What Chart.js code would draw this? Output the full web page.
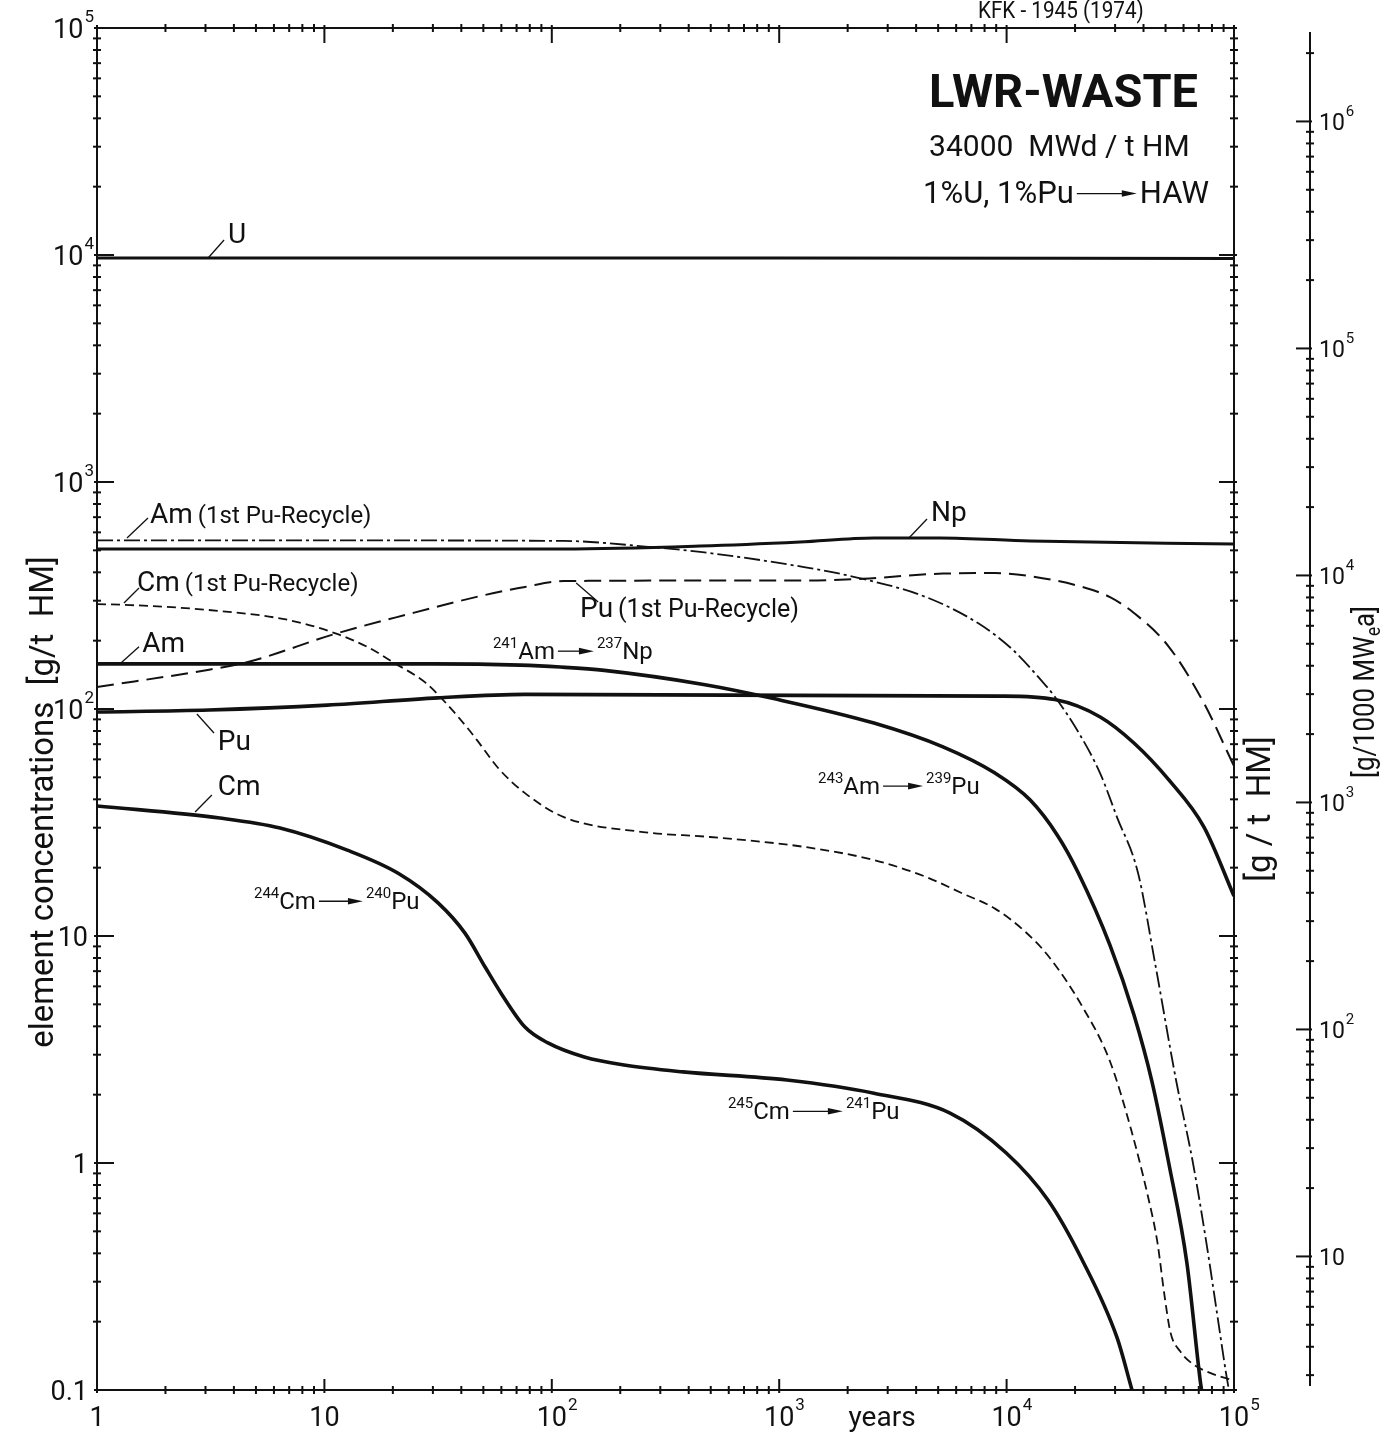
<!DOCTYPE html>
<html>
<head>
<meta charset="utf-8">
<title>LWR-WASTE element concentrations</title>
<style>
  html, body { margin: 0; padding: 0; background: #fff; }
  canvas { display: block; }
</style>
<script src="https://cdn.jsdelivr.net/npm/chart.js@4.4.1/dist/chart.umd.min.js"></script>
</head>
<body>
<canvas id="chart" width="1394" height="1432"></canvas>
<script>
// Decay time in years and element concentration in g per t HM, one pair of arrays per curve.
const uYears = [1, 1000, 100000];
const uValues = [9700, 9700, 9650];

const npYears = [1, 113, 449, 1234, 2610, 5100, 12700, 100000];
const npValues = [507, 507, 522, 544, 567, 567, 550, 533];

const amRecycleYears = [1, 10, 113, 273, 449, 1285, 2340, 4430, 7480, 10670, 14170, 16330, 20800, 25760, 30580, 37820, 44960, 55600, 66000, 76100, 84200, 92200, 95000];
const amRecycleValues = [553, 553, 550, 517, 492, 422, 374, 311, 239, 182, 134, 113, 78.3, 52.2, 33.4, 19.0, 7.6, 2.32, 1.0, 0.427, 0.218, 0.119, 0.1];

const cmRecycleYears = [1, 1.4, 3.1, 6.9, 11.1, 15.4, 20.2, 28, 34.3, 43.3, 46.9, 59, 76, 113, 252, 496, 1285, 2610, 4430, 6300, 8890, 12000, 15200, 21500, 28500, 35300, 41900, 46000, 49500, 52500, 58000, 66000, 80000, 100000];
const cmRecycleValues = [290, 287, 273, 247, 216, 188, 160, 130, 106, 80.8, 72.9, 54, 42.7, 33.4, 28.7, 27.3, 24.7, 21.6, 18.2, 15.5, 13.2, 10.5, 8.2, 4.9, 2.8, 1.40, 0.708, 0.45, 0.26, 0.18, 0.148, 0.13, 0.118, 0.110];

const puRecycleYears = [1, 3.11, 4.61, 11.1, 22.8, 50.9, 76.2, 113, 496, 1285, 2340, 5250, 8890, 12700, 21500, 28500, 36300, 51700, 73800, 100000];
const puRecycleValues = [125, 149, 161, 214, 260, 318, 345, 366, 368, 368, 375, 395, 397, 385, 345, 311, 265, 188, 106, 56];

const amYears = [1, 30, 72.6, 109, 170, 472, 912, 2610, 5250, 8890, 12700, 16800, 20600, 28500, 36300, 43550, 51740, 62070, 70950, 72000];
const amValues = [158, 158, 156, 153, 148, 128, 112, 86.7, 68.1, 52.2, 39.7, 27.6, 19.1, 9.1, 4.5, 2.29, 0.99, 0.363, 0.111, 0.1];

const puYears = [1, 3.11, 10.3, 31.6, 76.2, 9350, 16300, 25800, 36300, 51700, 73800, 100000];
const puValues = [97, 99, 104, 112, 116, 114, 110, 92.2, 70.8, 48.7, 30.2, 15];

const cmYears = [1, 3.47, 6.38, 12.6, 21.1, 31.6, 41.5, 50.9, 59.8, 76.2, 96.2, 139, 208, 377, 1082, 2610, 5640, 9940, 15200, 21500, 30600, 35600];
const cmValues = [37.4, 33.1, 29.9, 23.9, 18.9, 14.0, 10.3, 7.3, 5.6, 3.97, 3.38, 2.93, 2.70, 2.52, 2.32, 2.03, 1.66, 1.11, 0.687, 0.374, 0.17, 0.1];

// Tick labels: base text plus optional exponent.
const xTickValues = [1, 10, 100, 1000, 10000, 100000];
const xTickBase = ['1', '10', '10', '10', '10', '10'];
const xTickExp = ['', '', '2', '3', '4', '5'];

const yTickValues = [0.1, 1, 10, 100, 1000, 10000, 100000];
const yTickBase = ['0.1', '1', '10', '10', '10', '10', '10'];
const yTickExp = ['', '', '', '2', '3', '4', '5'];

// Second scale: g per 1000 MWe·a
const rTickValues = [10, 100, 1000, 10000, 100000, 1000000];
const rTickBase = ['10', '10', '10', '10', '10', '10'];
const rTickExp = ['', '2', '3', '4', '5', '6'];

const FONT = 'Roboto, "DejaVu Sans", sans-serif';
const INK = '#111';

function points(xs, ys) { return xs.map((x, i) => ({ x, y: ys[i] })); }

function curve(label, xs, ys, width, dash) {
  return {
    label,
    data: points(xs, ys),
    borderColor: INK,
    borderWidth: width,
    borderDash: dash,
    borderJoinStyle: 'round',
    pointRadius: 0,
    fill: false,
    cubicInterpolationMode: 'monotone'
  };
}

const datasets = [
  curve('U', uYears, uValues, 3, []),
  curve('Np', npYears, npValues, 3, []),
  curve('Am (1st Pu-Recycle)', amRecycleYears, amRecycleValues, 1.8, [16, 4, 3, 4]),
  curve('Cm (1st Pu-Recycle)', cmRecycleYears, cmRecycleValues, 1.8, [9, 5]),
  curve('Pu (1st Pu-Recycle)', puRecycleYears, puRecycleValues, 2, [17, 8]),
  curve('Am', amYears, amValues, 3.6, []),
  curve('Pu', puYears, puValues, 3.6, []),
  curve('Cm', cmYears, cmValues, 3.6, [])
];

// Curve labels, placed in data coordinates (years, g/t HM) at the left edge / vertical middle of the text.
const notes = [
  { t: 3.77, v: 12500, size: 28, parts: [{ text: 'U' }] },
  { t: 1.71, v: 730, size: 28, parts: [{ text: 'Am' }, { gap: 5 }, { text: '(1st Pu-Recycle)', size: 24 }] },
  { t: 1.50, v: 366, size: 28, parts: [{ text: 'Cm' }, { gap: 5 }, { text: '(1st Pu-Recycle)', size: 24 }] },
  { t: 133, v: 281, size: 28, parts: [{ text: 'Pu' }, { gap: 5 }, { text: '(1st Pu-Recycle)', size: 25 }] },
  { t: 4650, v: 745, size: 28, parts: [{ text: 'Np' }] },
  { t: 1.58, v: 197, size: 28, parts: [{ text: 'Am' }] },
  { t: 3.40, v: 73, size: 28, parts: [{ text: 'Pu' }] },
  { t: 3.40, v: 46.3, size: 28, parts: [{ text: 'Cm' }] },
  { t: 55.1, v: 182, size: 24, parts: [{ text: '241', size: 15, sup: true }, { text: 'Am' }, { arrow: 42 }, { text: '237', size: 15, sup: true }, { text: 'Np' }] },
  { t: 1482, v: 46.3, size: 24, parts: [{ text: '243', size: 15, sup: true }, { text: 'Am' }, { arrow: 46 }, { text: '239', size: 15, sup: true }, { text: 'Pu' }] },
  { t: 4.90, v: 14.4, size: 24, parts: [{ text: '244', size: 15, sup: true }, { text: 'Cm' }, { arrow: 50 }, { text: '240', size: 15, sup: true }, { text: 'Pu' }] },
  { t: 595, v: 1.71, size: 24, parts: [{ text: '245', size: 15, sup: true }, { text: 'Cm' }, { arrow: 56 }, { text: '241', size: 15, sup: true }, { text: 'Pu' }] },
  { t: 4560, v: 53300, size: 47, parts: [{ text: 'LWR-WASTE', bold: true }] },
  { t: 4560, v: 30500, size: 30, parts: [{ text: '34000  MWd / t HM' }] },
  { t: 4290, v: 18950, size: 31, parts: [{ text: '1%U, 1%Pu' }, { arrow: 66 }, { text: 'HAW' }] }
];

// Short leader strokes from a curve to its label, in data coordinates.
const leaders = [
  [[3.08, 9700], [3.62, 11640]],
  [[1.355, 567], [1.676, 694]],
  [[1.314, 293], [1.53, 341]],
  [[128, 359], [160, 296]],
  [[3720, 567], [4467, 687]],
  [[1.26, 158], [1.53, 188]],
  [[2.75, 95], [3.27, 78.4]],
  [[2.70, 35.2], [3.20, 41.8]]
];

function logSteps(min, max) {
  const out = [];
  for (let e = Math.floor(Math.log10(min)); e <= Math.ceil(Math.log10(max)); e++) {
    for (let m = 1; m <= 9; m++) {
      const v = m * Math.pow(10, e);
      if (v >= min * 0.9999 && v <= max * 1.0001) out.push({ v, major: m === 1 });
    }
  }
  return out;
}

function vTicks(c, scale, x, dir, majorLen) {
  for (const s of logSteps(scale.min, scale.max)) {
    const y = scale.getPixelForValue(s.v);
    c.beginPath();
    if (s.major) { c.moveTo(x - dir * 3, y); c.lineTo(x + dir * majorLen, y); }
    else { c.moveTo(x - 4, y); c.lineTo(x + 4, y); }
    c.stroke();
  }
}

function hTicks(c, scale, y, dir, majorLen) {
  for (const s of logSteps(scale.min, scale.max)) {
    const x = scale.getPixelForValue(s.v);
    c.beginPath();
    if (s.major) { c.moveTo(x, y - dir * 3); c.lineTo(x, y + dir * majorLen); }
    else { c.moveTo(x, y - 4); c.lineTo(x, y + 4); }
    c.stroke();
  }
}

// align 'right': the whole label (base + exponent) ends at x
function powLabel(c, base, exp, x, yc, align, size, expSize) {
  c.font = expSize + 'px ' + FONT;
  const ew = exp ? c.measureText(exp).width + 1 : 0;
  c.font = size + 'px ' + FONT;
  const w = c.measureText(base).width;
  let left = x;
  if (align === 'right') left = x - w - ew;
  else if (align === 'center') left = x - w / 2;
  const by = yc + 0.36 * size;
  c.fillText(base, left, by);
  if (exp) {
    c.font = expSize + 'px ' + FONT;
    c.fillText(exp, left + w + 1, by - 0.6 * size);
  }
}

function partsWidth(c, note) {
  let w = 0;
  for (const p of note.parts) {
    if (p.gap) { w += p.gap; continue; }
    if (p.arrow) { w += p.arrow; continue; }
    c.font = (p.bold ? 'bold ' : '') + (p.size || note.size) + 'px ' + FONT;
    w += c.measureText(p.text).width;
  }
  return w;
}

function drawParts(c, x, yc, note) {
  const S = note.size;
  const base = yc + 0.36 * S;
  let cx = x;
  for (const p of note.parts) {
    if (p.gap) { cx += p.gap; continue; }
    if (p.arrow) {
      const y = yc + 0.05 * S;
      const x0 = cx + 3, x1 = cx + p.arrow - 3;
      c.lineWidth = 1.3;
      c.beginPath(); c.moveTo(x0, y); c.lineTo(x1 - 8, y); c.stroke();
      c.beginPath(); c.moveTo(x1, y); c.lineTo(x1 - 15, y - 3.3); c.lineTo(x1 - 15, y + 3.3); c.closePath(); c.fill();
      cx += p.arrow;
      continue;
    }
    const size = p.size || S;
    c.font = (p.bold ? 'bold ' : '') + size + 'px ' + FONT;
    let by = base;
    if (p.sup) by = base - 0.46 * S;
    if (p.sub) by = base + 0.22 * S;
    c.fillText(p.text, cx, by);
    cx += c.measureText(p.text).width;
  }
}

// text rotated to read bottom-to-top, centred on (x, y); squeeze < 1 narrows the lettering
function rotatedTitle(c, note, x, y, squeeze) {
  c.save();
  c.translate(x, y);
  c.rotate(-Math.PI / 2);
  c.scale(squeeze || 1, 1);
  const w = partsWidth(c, note);
  drawParts(c, -w / 2, 0, note);
  c.restore();
}

const paperPlugin = {
  id: 'paper',
  beforeDraw(chart) {
    const c = chart.ctx;
    c.save();
    c.fillStyle = '#fff';
    c.fillRect(0, 0, chart.width, chart.height);
    c.restore();
  },
  afterDraw(chart) {
    const c = chart.ctx;
    const a = chart.chartArea;
    const sx = chart.scales.x, sy = chart.scales.y, sr = chart.scales.yR;
    c.save();
    c.strokeStyle = INK;
    c.fillStyle = INK;
    c.textAlign = 'left';
    c.textBaseline = 'alphabetic';
    c.lineCap = 'butt';

    // frame
    c.lineWidth = 2;
    c.strokeRect(a.left, a.top, a.right - a.left, a.bottom - a.top);

    // tick marks on all four sides
    vTicks(c, sy, a.left, 1, 17);
    vTicks(c, sy, a.right, -1, 15);
    hTicks(c, sx, a.bottom, -1, 11);
    hTicks(c, sx, a.top, 1, 15);

    // second scale (g/1000 MWe·a), standing apart on the right
    const axX = a.right + 76;
    const rTop = sr.getPixelForValue(sr.max), rBot = sr.getPixelForValue(sr.min);
    c.beginPath(); c.moveTo(axX, rTop + 4); c.lineTo(axX, rBot - 4); c.stroke();
    for (const s of logSteps(sr.min, sr.max)) {
      const y = sr.getPixelForValue(s.v);
      if (y < rTop + 8 || y > rBot - 2) continue;
      c.beginPath();
      if (s.major) { c.moveTo(axX - 14, y); c.lineTo(axX + 2, y); }
      else { c.moveTo(axX - 4, y); c.lineTo(axX + 4, y); }
      c.stroke();
    }

    // tick labels
    yTickValues.forEach((v, i) => powLabel(c, yTickBase[i], yTickExp[i], a.left - (yTickExp[i] ? 3 : 9), sy.getPixelForValue(v), 'right', 27, 17));
    xTickValues.forEach((v, i) => powLabel(c, xTickBase[i], xTickExp[i], sx.getPixelForValue(v), a.bottom + 26, 'center', 27, 17));
    rTickValues.forEach((v, i) => powLabel(c, rTickBase[i], rTickExp[i], axX + 9, sr.getPixelForValue(v), 'left', 23, 15));

    // axis titles
    c.font = '28px ' + FONT;
    c.textAlign = 'center';
    c.fillText('years', sx.getPixelForValue(2833), a.bottom + 36);
    c.textAlign = 'left';
    const midY = (a.top + a.bottom) / 2;
    rotatedTitle(c, { size: 33, parts: [{ text: 'element concentrations  [g/t  HM]' }] }, a.left - 56, midY + 93);
    rotatedTitle(c, { size: 33, parts: [{ text: '[g / t  HM]' }] }, a.right + 24, midY + 100);
    rotatedTitle(c, { size: 30, parts: [{ text: '[g/1000 MW' }, { text: 'e', size: 20, sub: true }, { text: 'a]' }] }, a.right + 129, midY - 17, 0.86);

    // report number above the frame
    c.font = '23px ' + FONT;
    c.save();
    c.translate(sx.getPixelForValue(7480), a.top - 10);
    c.scale(0.9, 1);
    c.fillText('KFK - 1945 (1974)', 0, 0);
    c.restore();

    // leader strokes
    c.lineWidth = 1.3;
    for (const [p0, p1] of leaders) {
      c.beginPath();
      c.moveTo(sx.getPixelForValue(p0[0]), sy.getPixelForValue(p0[1]));
      c.lineTo(sx.getPixelForValue(p1[0]), sy.getPixelForValue(p1[1]));
      c.stroke();
    }

    // curve labels and title block
    for (const n of notes) {
      drawParts(c, sx.getPixelForValue(n.t), sy.getPixelForValue(n.v), n);
    }
    c.restore();
  }
};

const hiddenAxis = {
  grid: { display: false },
  border: { display: false },
  ticks: { display: false },
  title: { display: false }
};

new Chart(document.getElementById('chart'), {
  type: 'line',
  data: { datasets },
  options: {
    responsive: false,
    animation: false,
    devicePixelRatio: 1,
    layout: { padding: { top: 28, left: 0, right: 0, bottom: 0 } },
    plugins: { legend: { display: false }, tooltip: { enabled: false } },
    scales: {
      x: Object.assign({ type: 'logarithmic', position: 'bottom', min: 1, max: 100000,
        afterFit(s) { s.height = 42; } }, hiddenAxis),
      y: Object.assign({ type: 'logarithmic', position: 'left', min: 0.1, max: 100000,
        afterFit(s) { s.width = 97; } }, hiddenAxis),
      yR: Object.assign({ type: 'logarithmic', position: 'right', min: 2.58, max: 2580000,
        afterFit(s) { s.width = 160; } }, hiddenAxis)
    }
  },
  plugins: [paperPlugin]
});
</script>
</body>
</html>
